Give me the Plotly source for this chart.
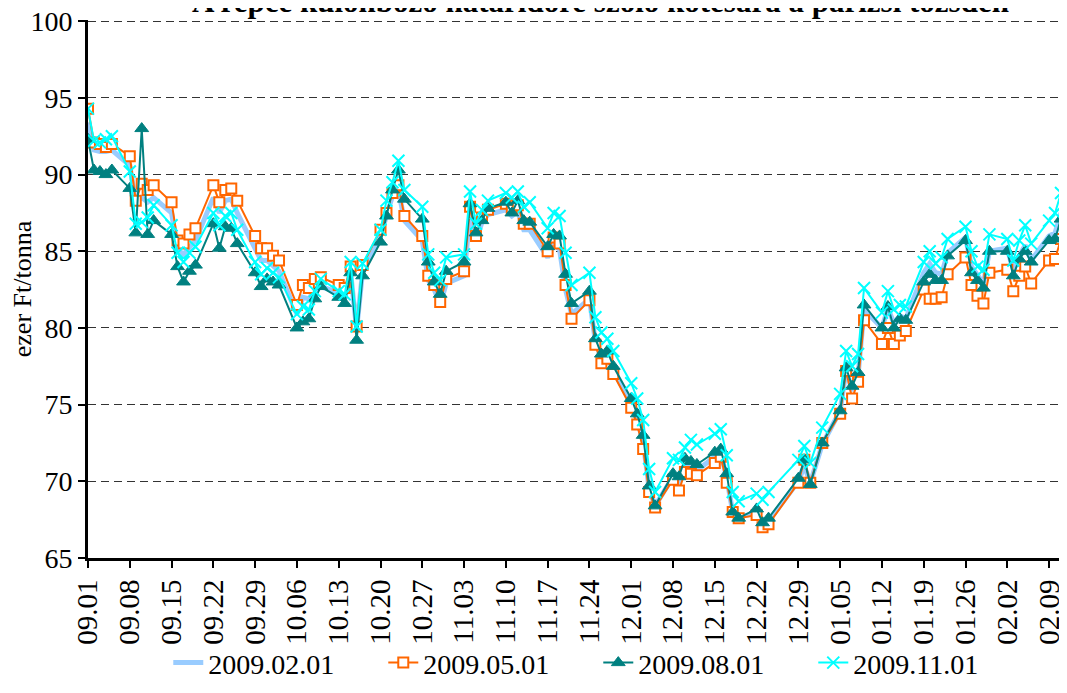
import plotly.graph_objects as go

dates = [
    "2008-09-01","2008-09-02","2008-09-03","2008-09-04","2008-09-05",
    "2008-09-08","2008-09-09","2008-09-10","2008-09-11","2008-09-12",
    "2008-09-15","2008-09-16","2008-09-17","2008-09-18","2008-09-19",
    "2008-09-22","2008-09-23","2008-09-24","2008-09-25","2008-09-26",
    "2008-09-29","2008-09-30","2008-10-01","2008-10-02","2008-10-03",
    "2008-10-06","2008-10-07","2008-10-08","2008-10-09","2008-10-10",
    "2008-10-13","2008-10-14","2008-10-15","2008-10-16","2008-10-17",
    "2008-10-20","2008-10-21","2008-10-22","2008-10-23","2008-10-24",
    "2008-10-27","2008-10-28","2008-10-29","2008-10-30","2008-10-31",
    "2008-11-03","2008-11-04","2008-11-05","2008-11-06","2008-11-07",
    "2008-11-10","2008-11-11","2008-11-12","2008-11-13","2008-11-14",
    "2008-11-17","2008-11-18","2008-11-19","2008-11-20","2008-11-21",
    "2008-11-24","2008-11-25","2008-11-26","2008-11-27","2008-11-28",
    "2008-12-01","2008-12-02","2008-12-03","2008-12-04","2008-12-05",
    "2008-12-08","2008-12-09","2008-12-10","2008-12-11","2008-12-12",
    "2008-12-15","2008-12-16","2008-12-17","2008-12-18","2008-12-19",
    "2008-12-22","2008-12-23","2008-12-24",
    "2008-12-29","2008-12-30","2008-12-31","2009-01-02",
    "2009-01-05","2009-01-06","2009-01-07","2009-01-08","2009-01-09",
    "2009-01-12","2009-01-13","2009-01-14","2009-01-15","2009-01-16",
    "2009-01-19","2009-01-20","2009-01-21","2009-01-22","2009-01-23",
    "2009-01-26","2009-01-27","2009-01-28","2009-01-29","2009-01-30",
    "2009-02-02","2009-02-03","2009-02-04","2009-02-05","2009-02-06",
    "2009-02-09","2009-02-10","2009-02-11",
]

# 2009.02.01 contract
s_feb = [
    93.4, 91.6, 91.5, 91.5, 91.6,
    90.6, 88.2, 88.5, 88.2, 88.5,
    87.5, 85.1, 84.8, 85.3, 85.7,
    88.5, 87.5, 88.3, 88.4, 87.5,
    85.2, 84.4, 84.4, 84.0, 83.7,
    80.9, 82.0, 81.9, 82.5, 82.7,
    82.3, 81.9, 83.6, 79.9, 83.7,
    86.0, 87.3, 88.6, 89.0, 87.0,
    85.7, 83.1, 82.5, 81.5, 82.9,
    83.4, 87.5, 85.7, 86.9, 87.4,
    87.7, 87.3, 87.6, 86.4, 86.4,
    84.6, 85.5, 85.1, 82.5, 80.9,
    81.9, 79.1, 78.0, 78.2, 77.2,
    75.1, 74.0, 72.6, 69.5, 68.4,
    70.3, 69.9, 71.0, 70.9, 70.7,
    71.6, 71.9, 70.2, 68.0, 67.7,
    67.9, 67.2, 67.4,
    70.0, 71.0, 69.9, 72.4,
    74.6, 77.3, 75.9, 76.9, 81.2,
    80.0, 81.3, 80.3, 80.8, 80.6,
    83.6, 84.2, 83.6, 83.5, 84.9,
    85.9, 84.0, 83.4, 82.9, 85.0,
    85.2, 83.7, 84.7, 85.4, 84.4,
    86.0, 86.2, 87.5,
]

# 2009.05.01 contract
s_may = [
    94.3, 92.1, 92.0, 91.8, 92.0,
    91.2, 88.3, 89.4, 89.0, 89.3,
    88.2, 85.7, 85.5, 86.1, 86.5,
    89.3, 88.2, 89.0, 89.1, 88.3,
    86.0, 85.2, 85.2, 84.7, 84.4,
    81.5, 82.8, 82.6, 83.2, 83.3,
    82.8, 82.6, 84.0, 80.1, 84.1,
    86.4, 87.5, 88.8, 89.3, 87.3,
    86.0, 83.4, 82.8, 81.7, 83.2,
    83.7, 87.9, 86.0, 87.2, 87.7,
    88.1, 87.7, 88.0, 86.8, 86.8,
    85.0, 85.9, 85.5, 82.8, 80.6,
    81.8, 78.9, 77.7, 78.0, 77.0,
    74.8, 73.7, 72.1, 69.3, 68.3,
    70.1, 69.4, 70.6, 70.5, 70.4,
    71.2, 71.6, 69.9, 68.0, 67.6,
    67.8, 67.0, 67.2,
    69.9, 71.4, 69.9, 72.5,
    74.4, 77.2, 75.4, 76.5, 80.5,
    78.95, 80.0, 78.95, 79.5, 79.8,
    82.5, 81.9, 81.9, 82.0, 83.5,
    84.6, 82.8, 82.1, 81.6, 83.6,
    83.8, 82.4, 83.4, 84.0, 82.9,
    84.4, 84.5, 85.8,
]

# 2009.08.01 contract
s_aug = [
    92.3, 90.3, 90.2, 90.0, 90.3,
    89.1, 86.2, 93.0, 86.1, 87.0,
    86.1, 84.0, 83.0, 83.7, 84.1,
    86.8, 85.2, 86.6, 86.5, 85.5,
    83.6, 82.7, 83.2, 83.0, 82.8,
    80.0, 80.4, 80.6, 81.9, 82.7,
    82.0, 81.6, 83.6, 79.2, 83.4,
    85.6, 87.3, 89.0, 90.3, 88.4,
    87.1, 84.3, 83.0, 82.2, 83.7,
    84.3, 88.1, 86.2, 87.0, 87.8,
    88.2, 87.5, 88.3, 87.0, 86.9,
    85.3, 86.1, 86.0, 83.5, 81.6,
    82.4, 79.3, 78.3, 78.5, 77.5,
    75.4, 74.4, 73.0, 69.7, 68.4,
    70.5, 70.3, 71.5, 71.3, 71.1,
    71.9, 72.1, 70.5, 68.0, 67.6,
    68.2, 67.3, 67.6,
    70.2, 71.4, 69.8, 72.5,
    74.6, 77.4, 76.2, 77.1, 81.5,
    80.0, 81.4, 80.0, 80.6, 80.5,
    83.0, 83.5, 83.1, 83.1, 84.7,
    85.7, 83.6, 83.1, 82.6, 85.0,
    85.0, 83.4, 84.5, 85.0, 84.3,
    85.7, 85.8, 87.1,
]

# 2009.11.01 contract
s_nov = [
    94.3, 92.2, 92.1, 92.3, 92.5,
    90.2, 86.8, 86.9, 87.2, 88.0,
    86.7, 84.9, 84.3, 84.9, 85.3,
    87.5, 86.7, 87.3, 87.5, 86.4,
    84.3, 83.5, 83.9, 83.6, 83.3,
    80.9, 81.4, 81.2, 82.4, 83.2,
    82.4, 82.2, 84.3, 80.1, 84.2,
    86.4, 88.3, 89.5, 90.9, 89.0,
    87.9, 84.8, 83.6, 83.1, 84.6,
    84.8, 88.9, 86.8, 87.7, 88.3,
    88.8, 88.5, 88.9, 87.9, 88.2,
    86.5, 87.5, 87.3, 84.9, 82.8,
    83.6, 80.7, 79.7, 79.3, 78.5,
    76.4, 75.4, 74.0, 70.8, 69.3,
    71.5, 71.4, 72.2, 72.7, 72.4,
    73.1, 73.4, 71.7, 69.3, 68.7,
    69.2, 68.8, 69.3,
    71.4, 72.3, 71.2, 73.5,
    75.7, 78.5, 77.5, 78.3, 82.6,
    81.0, 82.4, 81.2, 81.5, 81.4,
    84.3, 85.0, 84.2, 84.6, 85.8,
    86.6, 85.0, 84.0, 83.8, 86.1,
    85.8, 84.4, 85.7, 86.7, 85.5,
    87.0, 87.5, 88.8,
]

series_names = ["2009.02.01", "2009.05.01", "2009.08.01", "2009.11.01"]

SERIF = "Liberation Serif"

fig = go.Figure()
fig.add_trace(go.Scatter(
    x=dates, y=s_feb, name=series_names[0], mode="lines",
    line=dict(color="#99CCFF", width=5),
))
fig.add_trace(go.Scatter(
    x=dates, y=s_may, name=series_names[1], mode="lines+markers",
    line=dict(color="#FF6600", width=2),
    marker=dict(symbol="square", size=10, color="white",
                line=dict(color="#FF6600", width=2)),
))
fig.add_trace(go.Scatter(
    x=dates, y=s_aug, name=series_names[2], mode="lines+markers",
    line=dict(color="#008080", width=2),
    marker=dict(symbol="triangle-up", size=12, color="#008080",
                line=dict(color="#008080", width=1)),
))
fig.add_trace(go.Scatter(
    x=dates, y=s_nov, name=series_names[3], mode="lines+markers",
    line=dict(color="#00FFFF", width=2),
    marker=dict(symbol="x-thin-open", size=12, color="#00FFFF",
                line=dict(color="#00FFFF", width=2)),
))

fig.update_layout(
    width=1059, height=685,
    margin=dict(l=80, r=0, t=12, b=135, autoexpand=False),
    paper_bgcolor="white", plot_bgcolor="white",
    font=dict(family=SERIF, color="black", size=28),
    showlegend=True,
    legend=dict(orientation="h", x=0.082, xanchor="left", y=-0.195, yanchor="middle",
                font=dict(family=SERIF, size=28),
                entrywidth=170, entrywidthmode="pixels",
                bgcolor="rgba(0,0,0,0)"),
    annotations=[dict(
        text="<b>A repce különböző határidőre szóló kötésára a párizsi tőzsdén</b>",
        xref="paper", yref="paper", x=0.524, y=1.0345, xanchor="center", yanchor="middle",
        showarrow=False, font=dict(family=SERIF, size=31, color="black"),
    )],
)

fig.update_xaxes(
    type="date", range=["2008-09-01", "2009-02-12"],
    tick0="2008-09-01", dtick=7 * 24 * 3600 * 1000, tickformat="%m.%d",
    tickangle=-90, ticks="outside", ticklen=7, tickwidth=2, tickcolor="black",
    showline=True, linecolor="black", linewidth=3, showgrid=False,
    tickfont=dict(family=SERIF, size=29), zeroline=False, automargin=False,
)
fig.update_yaxes(
    range=[65, 100.08], tick0=65, dtick=5, ticks="outside", ticklen=7, tickwidth=2,
    tickcolor="black", ticklabeloverflow="allow",
    showline=True, linecolor="black", linewidth=3,
    showgrid=True, gridcolor="#333333", gridwidth=1, griddash="8px,5px",
    tickfont=dict(family=SERIF, size=28), zeroline=False, automargin=False,
    title=dict(text="ezer Ft/tonna", font=dict(family=SERIF, size=26), standoff=4),
)

fig.write_html("out.html")
